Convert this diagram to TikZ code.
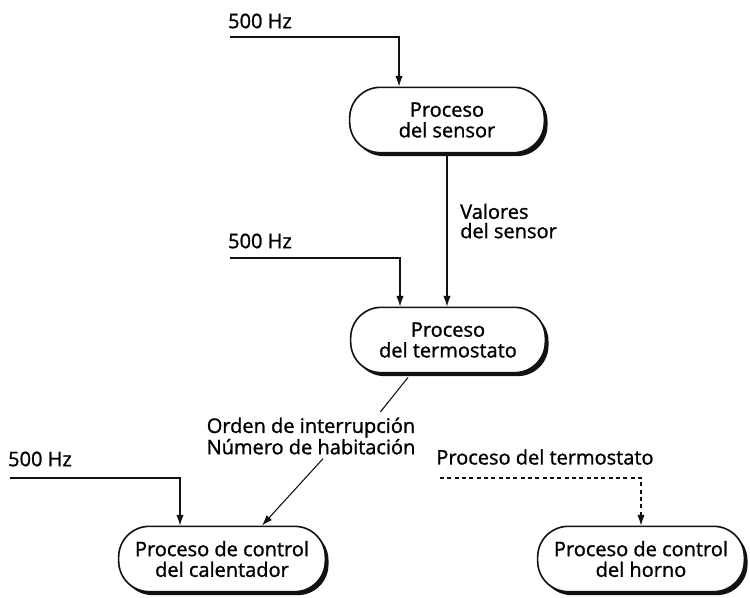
\documentclass[tikz,border=0pt]{standalone}
\usepackage{fontspec}
\setmainfont{Open Sans}[RawFeature={embolden=1.2}]
\usepackage{xcolor}
\usepackage{tikz}
\usetikzlibrary{arrows.meta,positioning,shadows,calc}
\definecolor{processInk}{HTML}{111111}
\tikzset{
  process/.style={
    rectangle,
    rounded corners=23pt,
    draw=processInk,
    fill=white,
    line width=1.2pt,
    minimum width=146pt,
    minimum height=49pt,
    inner xsep=0pt,
    align=center,
    font=\fontsize{15}{15.5}\selectfont,
    drop shadow={shadow xshift=2.4pt,shadow yshift=-2.6pt,fill=processInk,opacity=1}
  },
  processWide/.style={
    process,
    minimum width=155pt
  },
  flowlabel/.style={
    align=center,
    inner sep=0pt,
    font=\fontsize{15}{16}\selectfont
  },
  arrow/.style={
    -{Latex[length=8pt,width=5.5pt]},
    line width=0.8pt,
    draw=processInk
  },
  plainline/.style={
    line width=0.8pt,
    draw=processInk
  },
  dashedArrow/.style={
    arrow,
    dashed,
    dash pattern=on 3pt off 2.5pt
  }
}
\begin{document}
\begin{tikzpicture}[x=0.75pt,y=-0.75pt]
  \useasboundingbox (0,0) rectangle (750,598);
  % processes
  \node[process] (sensor) at (447,120) {Proceso\\del sensor};
  \node[process] (termostato) at (448,340) {Proceso\\del termostato};
  \node[processWide] (calentador) at (222,559) {Proceso de control\\del calentador};
  \node[processWide] (horno) at (641,559) {Proceso de control\\del horno};
  % clock inputs
  \coordinate (clockA) at (230,37);
  \coordinate (clockB) at (230,258);
  \coordinate (clockC) at (10,478);
  \coordinate (startHorno) at (440,478);
  \node[flowlabel] (hzA) at (260,21) {500 Hz};
  \node[flowlabel] (hzB) at (260,241) {500 Hz};
  \node[flowlabel] (hzC) at (40,459) {500 Hz};
  \draw[arrow] (clockA) -| ([xshift=-36pt]sensor.north);
  \draw[arrow] (clockB) -| ([xshift=-36pt]termostato.north);
  \draw[arrow] (clockC) -| ([xshift=-31.5pt]calentador.north);
  % data flow
  \draw[arrow] (sensor.south) -- (sensor.south |- termostato.north);
  \node[flowlabel,align=left,anchor=west,font=\fontsize{15}{14.5}\selectfont] (valores) at (460,221) {Valores\\del sensor};
  \node[flowlabel] (orden) at (311,436) {Orden de interrupción\\Número de habitación};
  \draw[plainline] ([xshift=-30pt,yshift=-3pt]termostato.south) -- ([xshift=52pt,yshift=4pt]orden.north);
  \draw[arrow] ([xshift=9pt,yshift=-3pt]orden.south) -- ([xshift=30pt]calentador.north);
  \node[flowlabel] (termLabel) at (545,457) {Proceso del termostato};
  \draw[dashedArrow] (startHorno) -| (horno.north);
\end{tikzpicture}
\end{document}
